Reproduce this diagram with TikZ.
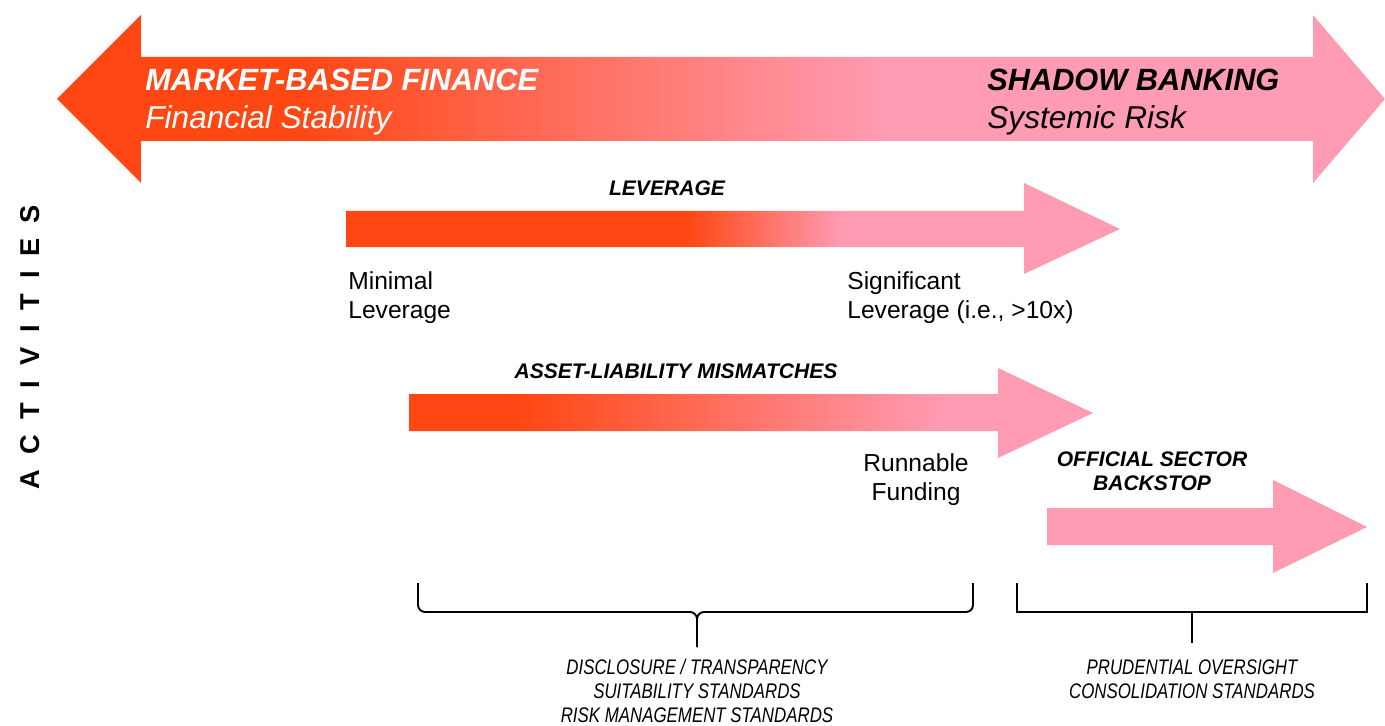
\documentclass[tikz,border=0pt]{standalone}
\usepackage{fontspec}
\setmainfont{Liberation Sans}
\newfontfamily\narrowfont{Liberation Sans}[FakeStretch=0.8]
\usetikzlibrary{positioning}

\definecolor{blkorange}{RGB}{255,71,19}
\definecolor{blkpink}{RGB}{255,155,178}

% colour runs: 25bp = left end of the arrow, 75bp = right end
\pgfdeclarehorizontalshading{topfade}{100bp}{color(0bp)=(blkorange); color(34bp)=(blkorange); color(56bp)=(blkpink); color(100bp)=(blkpink)}
\pgfdeclarehorizontalshading{levfade}{100bp}{color(0bp)=(blkorange); color(47bp)=(blkorange); color(57bp)=(blkpink); color(100bp)=(blkpink)}
\pgfdeclarehorizontalshading{almfade}{100bp}{color(0bp)=(blkorange); color(33bp)=(blkorange); color(64bp)=(blkpink); color(100bp)=(blkpink)}

\begin{document}
\begin{tikzpicture}[x=0.02cm, y=-0.02cm,
            title/.style={anchor=base west, inner sep=0, font=\fontsize{17.5}{21}\selectfont\bfseries\itshape},
            subtitle/.style={anchor=base west, inner sep=0, font=\fontsize{18}{21}\selectfont\itshape},
            tag/.style={inner sep=0, align=center, font=\fontsize{12}{13.7}\selectfont\bfseries\itshape},
            note/.style={inner sep=0, font=\fontsize{14}{16.5}\selectfont},
            policy/.style={anchor=north, inner sep=0, align=center, font=\narrowfont\fontsize{12}{13.7}\selectfont\itshape},
            bracket/.style={line width=1.1pt}
        ]
        \useasboundingbox (0,0) rectangle (1385,726);

        % Spectrum arrow
        \shade[shading=topfade] (57,99) -- (141,15) -- (141,57) -- (1313,57) -- (1313,15) -- (1385,99)
            -- (1313,183) -- (1313,141) -- (141,141) -- (141,183) -- cycle;
        \node[title, text=white] (mbf) at (145,91) {MARKET-BASED FINANCE};
        \node[subtitle, text=white] (stab) at (145,129) {Financial Stability};
        \node[title] (shadow) at (987,91) {SHADOW BANKING};
        \node[subtitle] (sysrisk) at (987,129) {Systemic Risk};

        % Activities
        \node[rotate=90, inner sep=0, font=\fontsize{15.5}{18}\selectfont\bfseries] (activities) at (30,347)
            {A\kern8.5pt C\kern8.5pt T\kern8.5pt I\kern8.5pt V\kern8.5pt I\kern8.5pt T\kern8.5pt I\kern8.5pt E\kern8.5pt S};

        % Leverage
        \shade[shading=levfade] (346,211) -- (1024,211) -- (1024,183) -- (1120,229) -- (1024,274)
            -- (1024,247) -- (346,247) -- cycle;
        \node[tag, anchor=base] (levtag) at (667,195) {LEVERAGE};
        \node[note, anchor=north west, align=left] (minlev) at (348,271) {Minimal\\Leverage};
        \node[note, anchor=north west, align=left] (siglev) at (847,271) {Significant\\Leverage (i.e., >10x)};

        % Asset-liability mismatches
        \shade[shading=almfade] (409,394) -- (998,394) -- (998,368) -- (1093,413) -- (998,458)
            -- (998,431) -- (409,431) -- cycle;
        \node[tag, anchor=base] (almtag) at (676,378) {ASSET-LIABILITY MISMATCHES};
        \node[note, anchor=north, align=center] (runfund) at (916,453) {Runnable\\Funding};

        % Official sector backstop
        \fill[blkpink] (1047,508) -- (1273,508) -- (1273,480) -- (1367,527) -- (1273,573)
            -- (1273,545) -- (1047,545) -- cycle;
        \node[tag, anchor=north] (osbtag) at (1152,451) {OFFICIAL SECTOR\\BACKSTOP};

        % Brackets
        \coordinate (lbl) at (418,583);
        \coordinate (lbr) at (973,583);
        \coordinate (lbtip) at (697,647);
        \draw[bracket, rounded corners=4pt] (lbl) |- (697,612) -- (lbtip);
        \draw[bracket, rounded corners=4pt] (lbr) |- (697,612) -- (lbtip);

        \coordinate (rbl) at (1017,583);
        \coordinate (rbr) at (1367,583);
        \coordinate (rbtip) at (1192,643);
        \draw[bracket] (rbl) |- (1192,612) -| (rbr);
        \draw[bracket] (1192,612) -- (rbtip);

        % Standards
        \node[policy] (discl) at (697,659) {DISCLOSURE / TRANSPARENCY\\SUITABILITY STANDARDS\\RISK MANAGEMENT STANDARDS};
        \node[policy] (prud) at (1192,659) {PRUDENTIAL OVERSIGHT\\CONSOLIDATION STANDARDS};
    \end{tikzpicture}
\end{document}
